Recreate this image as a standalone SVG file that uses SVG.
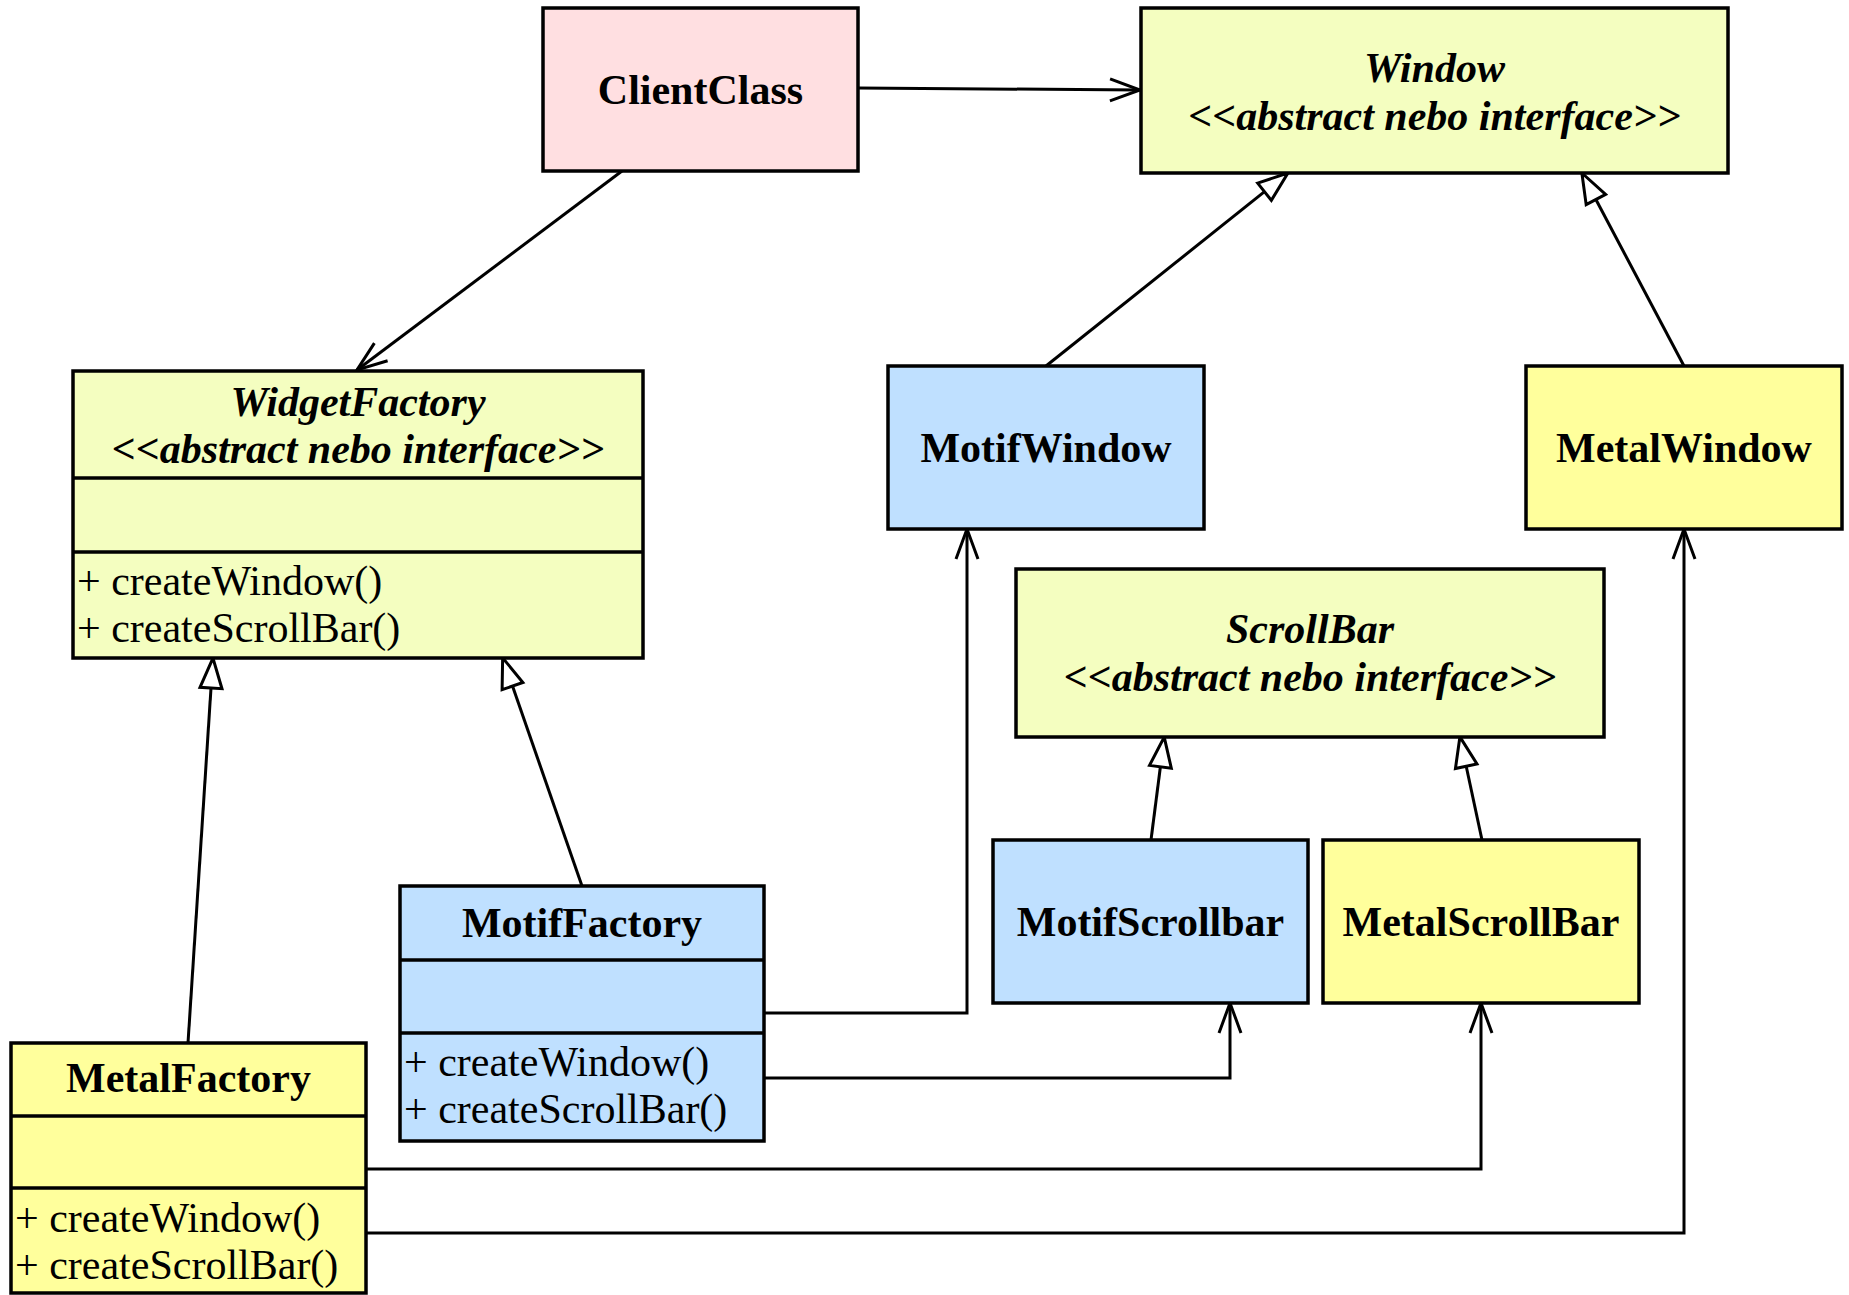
<svg xmlns="http://www.w3.org/2000/svg" width="1849" height="1295" viewBox="0 0 1849 1295">
  <style>
    .box { stroke: #000; stroke-width: 3.5; }
    .div { stroke: #000; stroke-width: 3.5; }
    .client { fill: #FFDFE1; }
    .iface { fill: #F4FEC0; }
    .motif { fill: #BFE0FF; }
    .metal { fill: #FFFF9C; }
    text { font-family: "Liberation Serif", "Times New Roman", serif; fill: #000; }
    .name { font-size: 42px; font-weight: bold; text-anchor: middle; }
    .abs { font-size: 42px; font-weight: bold; font-style: italic; text-anchor: middle; }
    .op { font-size: 42px; }
    .link { fill: none; stroke: #000; stroke-width: 3; }
  </style>
  <defs>
    <!-- open arrowhead for associations -->
    <marker id="open" markerUnits="userSpaceOnUse" markerWidth="40" markerHeight="30" viewBox="-34 -15 40 30" refX="0" refY="0" orient="auto">
      <path d="M-30,-11 L0,0 L-30,11" fill="none" stroke="#000" stroke-width="3" stroke-linejoin="miter"/>
    </marker>
    <!-- hollow triangle for generalization; path ends at triangle base -->
    <marker id="gen" markerUnits="userSpaceOnUse" markerWidth="40" markerHeight="30" viewBox="-4 -15 40 30" refX="0" refY="0" orient="auto">
      <path d="M0,-11 L30,0 L0,11 Z" fill="#fff" stroke="#000" stroke-width="3"/>
    </marker>
  </defs>

  <g id="connectors">
    <!-- associations -->
    <path class="link" d="M858,88 L1140,90" marker-end="url(#open)"/>
    <path class="link" d="M622,171 L357,370" marker-end="url(#open)"/>
    <path class="link" d="M764,1013 H967 V529" marker-end="url(#open)"/>
    <path class="link" d="M764,1078 H1230 V1003" marker-end="url(#open)"/>
    <path class="link" d="M366,1169 H1481 V1003" marker-end="url(#open)"/>
    <path class="link" d="M366,1233 H1684 V529" marker-end="url(#open)"/>
    <!-- generalizations -->
    <path class="link" d="M1046,366 L1264.5,191.7" marker-end="url(#gen)"/>
    <path class="link" d="M1684,366 L1595.9,199.5" marker-end="url(#gen)"/>
    <path class="link" d="M582,886 L512.5,686.1" marker-end="url(#gen)"/>
    <path class="link" d="M188,1043 L211,688" marker-end="url(#gen)"/>
    <path class="link" d="M1151,840 L1160.4,766.8" marker-end="url(#gen)"/>
    <path class="link" d="M1482,840 L1466.2,766.2" marker-end="url(#gen)"/>
  </g>

  <g id="ClientClass">
    <rect class="box client" x="543" y="8" width="315" height="163"/>
    <text class="name" x="700.5" y="104">ClientClass</text>
  </g>

  <g id="Window">
    <rect class="box iface" x="1141" y="8" width="587" height="165"/>
    <text class="abs" x="1434.5" y="82">Window</text>
    <text class="abs" x="1434.5" y="130">&lt;&lt;abstract nebo interface&gt;&gt;</text>
  </g>

  <g id="WidgetFactory">
    <rect class="box iface" x="73" y="371" width="570" height="287"/>
    <line class="div" x1="73" y1="478" x2="643" y2="478"/>
    <line class="div" x1="73" y1="552" x2="643" y2="552"/>
    <text class="abs" x="358" y="416">WidgetFactory</text>
    <text class="abs" x="358" y="463">&lt;&lt;abstract nebo interface&gt;&gt;</text>
    <text class="op" x="77" y="595">+ createWindow()</text>
    <text class="op" x="77" y="642">+ createScrollBar()</text>
  </g>

  <g id="MotifWindow">
    <rect class="box motif" x="888" y="366" width="316" height="163"/>
    <text class="name" x="1046" y="461.5">MotifWindow</text>
  </g>

  <g id="MetalWindow">
    <rect class="box metal" x="1526" y="366" width="316" height="163"/>
    <text class="name" x="1684" y="461.5">MetalWindow</text>
  </g>

  <g id="ScrollBar">
    <rect class="box iface" x="1016" y="569" width="588" height="168"/>
    <text class="abs" x="1310" y="643">ScrollBar</text>
    <text class="abs" x="1310" y="691">&lt;&lt;abstract nebo interface&gt;&gt;</text>
  </g>

  <g id="MotifScrollbar">
    <rect class="box motif" x="993" y="840" width="315" height="163"/>
    <text class="name" x="1150.5" y="935.5">MotifScrollbar</text>
  </g>

  <g id="MetalScrollBar">
    <rect class="box metal" x="1323" y="840" width="316" height="163"/>
    <text class="name" x="1481" y="935.5">MetalScrollBar</text>
  </g>

  <g id="MotifFactory">
    <rect class="box motif" x="400" y="886" width="364" height="255"/>
    <line class="div" x1="400" y1="960" x2="764" y2="960"/>
    <line class="div" x1="400" y1="1033" x2="764" y2="1033"/>
    <text class="name" x="582" y="937">MotifFactory</text>
    <text class="op" x="404" y="1076">+ createWindow()</text>
    <text class="op" x="404" y="1123">+ createScrollBar()</text>
  </g>

  <g id="MetalFactory">
    <rect class="box metal" x="11" y="1043" width="355" height="250"/>
    <line class="div" x1="11" y1="1116" x2="366" y2="1116"/>
    <line class="div" x1="11" y1="1188" x2="366" y2="1188"/>
    <text class="name" x="188.5" y="1092">MetalFactory</text>
    <text class="op" x="15" y="1232">+ createWindow()</text>
    <text class="op" x="15" y="1279">+ createScrollBar()</text>
  </g>
</svg>
